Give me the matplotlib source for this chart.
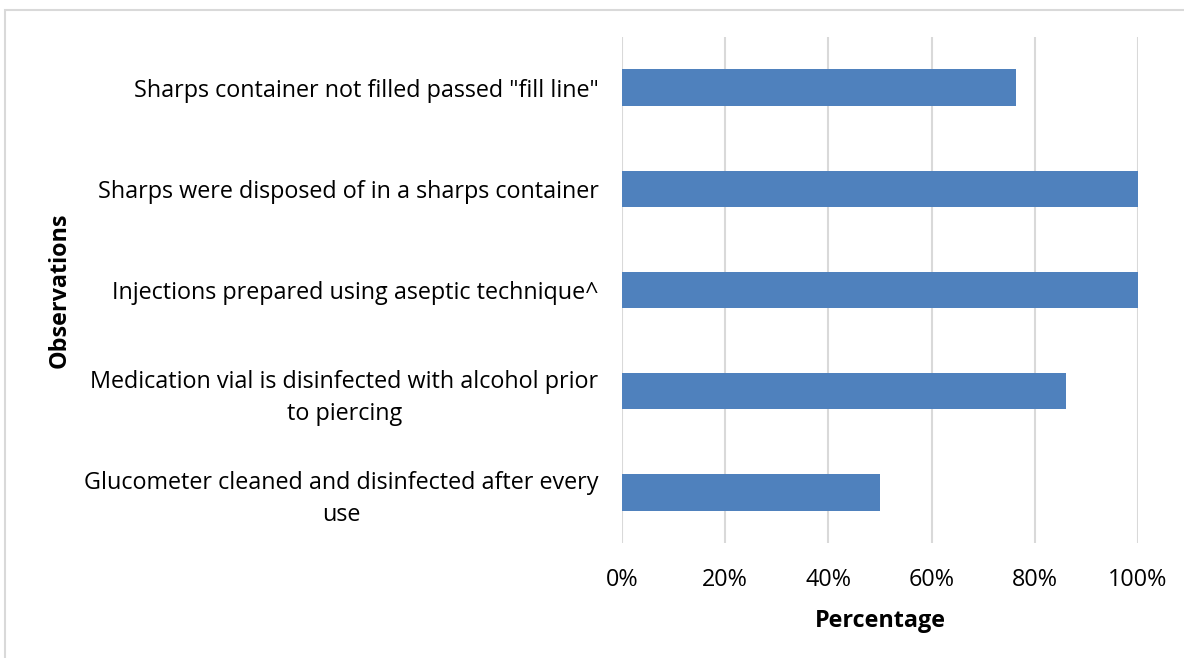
import matplotlib
matplotlib.use("Agg")
import matplotlib.pyplot as plt
from matplotlib.patches import Rectangle

categories = [
    'Glucometer cleaned and disinfected after every\nuse',
    'Medication vial is disinfected with alcohol prior\nto piercing',
    'Injections prepared using aseptic technique^',
    'Sharps were disposed of in a sharps container',
    'Sharps container not filled passed "fill line"',
]
values = [0.50, 0.86, 1.00, 1.00, 0.763]
xticks = [0, 0.2, 0.4, 0.6, 0.8, 1.0]
xticklabels = ['0%', '20%', '40%', '60%', '80%', '100%']

plt.rcParams['font.family'] = ['Open Sans', 'DejaVu Sans']

W, H = 1184, 658
FS = 16.8
fig = plt.figure(figsize=(W / 100, H / 100), dpi=100)
ax = fig.add_axes([622 / W, 1 - 543 / H, (1138 - 622) / W, (543 - 37) / H])

# outer chart frame
fig.patches.append(Rectangle((5 / W, -0.1), 1.2, 1 - 10 / H + 0.1,
                             transform=fig.transFigure, fill=False,
                             edgecolor='#d9d9d9', linewidth=1.5))

ypos = list(range(len(categories)))
ax.barh(ypos, values, height=0.36, color='#4f81bd', zorder=3)
ax.set_ylim(-0.5, len(categories) - 0.5)
ax.set_xlim(0, 1.0)
ax.set_xticks(xticks)
ax.set_xticklabels(xticklabels, fontsize=FS)
ax.set_yticks(ypos)
ax.set_yticklabels(categories, fontsize=FS, multialignment='center',
                   linespacing=1.42)
ax.tick_params(axis='both', length=0)
ax.tick_params(axis='y', pad=17)
ax.tick_params(axis='x', pad=18)
ax.grid(axis='x', color='#d9d9d9', linewidth=1.5, zorder=0)
for s in ax.spines.values():
    s.set_visible(False)

ax.set_xlabel('Percentage', fontsize=FS, fontweight='bold', labelpad=12)
fig.text(60 / W, 1 - 290 / H, 'Observations', rotation=90, fontsize=FS,
         fontweight='bold', ha='center', va='center')

fig.savefig('out.png', dpi=100)
